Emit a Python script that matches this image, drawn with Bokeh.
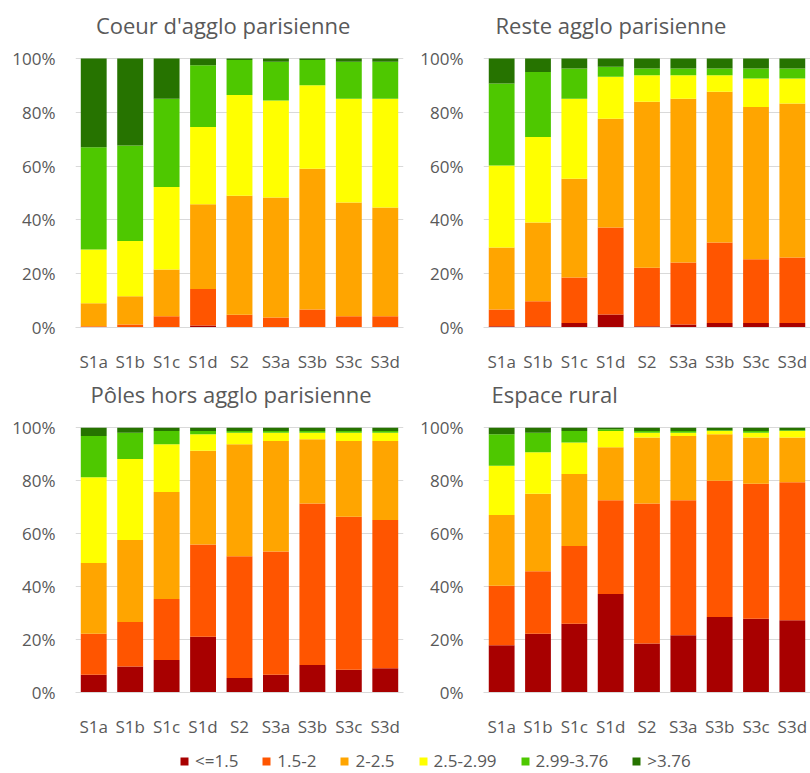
from bokeh.plotting import figure
from bokeh.models import (ColumnDataSource, FactorRange, Range1d, Legend, LegendItem,
                          PrintfTickFormatter, FixedTicker, Label)
from bokeh.layouts import gridplot, column
from bokeh.embed import file_html
from bokeh.resources import INLINE

scenarios = ["S1a", "S1b", "S1c", "S1d", "S2", "S3a", "S3b", "S3c", "S3d"]
classes = ["<=1.5", "1.5-2", "2-2.5", "2.5-2.99", "2.99-3.76", ">3.76"]
colors = ["#A80000", "#FF5500", "#FFA500", "#FFFF00", "#4EC800", "#267300"]
y_ticks = [0, 20, 40, 60, 80, 100]

# Coeur d'agglo parisienne (% of each class)
coeur_c1 = [0, 0, 0, 0.7, 0, 0, 0, 0, 0]
coeur_c2 = [0.5, 1.1, 4.2, 13.6, 4.7, 3.7, 6.7, 4.2, 4.2]
coeur_c3 = [8.5, 10.5, 17.4, 31.5, 44.3, 44.6, 52.3, 42.3, 40.4]
coeur_c4 = [20.0, 20.6, 30.6, 28.7, 37.4, 36.1, 31.1, 38.5, 40.4]
coeur_c5 = [38.0, 35.5, 32.8, 23.0, 13.0, 14.4, 9.3, 13.8, 13.8]
coeur_c6 = [33.0, 32.3, 15.0, 2.5, 0.6, 1.2, 0.6, 1.2, 1.2]

# Reste agglo parisienne
reste_c1 = [0.5, 0.5, 1.7, 4.8, 0.5, 1.1, 1.7, 1.7, 1.7]
reste_c2 = [6.2, 9.3, 16.9, 32.4, 21.7, 23.1, 29.9, 23.7, 24.3]
reste_c3 = [23.0, 29.2, 36.7, 40.4, 61.7, 60.8, 56.0, 56.6, 57.3]
reste_c4 = [30.5, 31.8, 29.7, 15.6, 9.9, 8.8, 6.2, 10.6, 9.3]
reste_c5 = [30.5, 24.2, 11.3, 3.7, 2.5, 2.5, 2.5, 3.7, 3.7]
reste_c6 = [9.3, 5.0, 3.7, 3.1, 3.7, 3.7, 3.7, 3.7, 3.7]

# Pôles hors agglo parisienne
poles_c1 = [6.7, 9.8, 12.3, 21.1, 5.5, 6.7, 10.4, 8.6, 9.2]
poles_c2 = [15.5, 16.8, 23.0, 34.8, 46.0, 46.6, 61.0, 57.8, 56.0]
poles_c3 = [26.7, 31.0, 40.4, 35.4, 42.3, 41.7, 24.3, 28.6, 29.8]
poles_c4 = [32.4, 30.6, 18.1, 6.2, 4.3, 3.1, 2.4, 3.1, 3.1]
poles_c5 = [15.6, 9.9, 5.0, 1.3, 0.7, 0.7, 0.7, 0.7, 0.7]
poles_c6 = [3.1, 1.9, 1.2, 1.2, 1.2, 1.2, 1.2, 1.2, 1.2]

# Espace rural
rural_c1 = [17.8, 22.2, 26.0, 37.2, 18.5, 21.6, 28.5, 27.9, 27.3]
rural_c2 = [22.5, 23.6, 29.3, 35.4, 52.9, 51.0, 51.5, 50.9, 52.1]
rural_c3 = [26.7, 29.3, 27.2, 20.0, 24.9, 24.3, 17.5, 17.5, 16.9]
rural_c4 = [18.6, 15.6, 11.9, 6.2, 1.8, 1.2, 1.3, 1.8, 2.5]
rural_c5 = [11.9, 7.4, 4.4, 0.6, 0.7, 0.7, 0.3, 0.7, 0.3]
rural_c6 = [2.5, 1.9, 1.2, 0.6, 1.2, 1.2, 0.9, 1.2, 0.9]

FONT = "Open Sans"
GRAY = "#595959"
PX_PER_PCT = 2.69  # plot-area height of 269 px for 0..100 %


def make_source(series):
    src = dict(x=scenarios)
    keys = []
    for i, vals in enumerate(series):
        k = "c%d" % i
        src[k] = vals
        keys.append(k)
    return ColumnDataSource(src), keys


def make_panel(title, series, height, left_border, right_border, head_px,
               bottom_border, title_x):
    source, keys = make_source(series)
    # the plot frame also covers the title band above 100 %
    y_end = 100 + head_px / PX_PER_PCT
    p = figure(width=405, height=height, x_range=FactorRange(*scenarios, range_padding=0),
               y_range=Range1d(0, y_end), toolbar_location=None, output_backend="svg",
               min_border_left=left_border, min_border_right=right_border,
               min_border_top=0, min_border_bottom=bottom_border)
    p.vbar_stack(keys, x="x", width=0.71, color=colors, line_color=None, source=source)
    p.add_layout(Label(x=title_x, y=100 + 34 / PX_PER_PCT, text=title, text_font=FONT,
                       text_font_size="22px", text_color=GRAY,
                       text_baseline="alphabetic", text_align="left"))
    p.outline_line_color = None
    p.xgrid.grid_line_color = None
    p.ygrid.grid_line_color = "#D9D9D9"
    p.ygrid.grid_line_width = 1
    p.yaxis.ticker = FixedTicker(ticks=y_ticks)
    p.yaxis.formatter = PrintfTickFormatter(format="%d%%")
    p.yaxis.axis_line_color = None
    p.yaxis.major_tick_line_color = None
    p.yaxis.minor_tick_line_color = None
    p.yaxis.major_label_standoff = 14
    p.xaxis.axis_line_color = "#D9D9D9"
    p.xaxis.major_tick_line_color = None
    p.xaxis.minor_tick_line_color = None
    p.xaxis.major_label_standoff = 16
    for ax in (p.xaxis, p.yaxis):
        ax.major_label_text_font = FONT
        ax.major_label_text_font_size = "17px"
        ax.major_label_text_color = GRAY
    return p


p1 = make_panel("Coeur d'agglo parisienne",
                [coeur_c1, coeur_c2, coeur_c3, coeur_c4, coeur_c5, coeur_c6],
                380, 75, 2, 58, 53, 0.56)
p2 = make_panel("Reste agglo parisienne",
                [reste_c1, reste_c2, reste_c3, reste_c4, reste_c5, reste_c6],
                380, 78, 0, 58, 53, 0.33)
p3 = make_panel("Pôles hors agglo parisienne",
                [poles_c1, poles_c2, poles_c3, poles_c4, poles_c5, poles_c6],
                360, 75, 2, 48, 43, 0.41)
p4 = make_panel("Espace rural",
                [rural_c1, rural_c2, rural_c3, rural_c4, rural_c5, rural_c6],
                360, 78, 0, 48, 43, 0.22)

# legend strip: same stacked bars, drawn out of the visible y window
lsrc, lkeys = make_source([rural_c1, rural_c2, rural_c3, rural_c4, rural_c5, rural_c6])
lg = figure(width=810, height=32, x_range=FactorRange(*scenarios),
            y_range=Range1d(1000, 1001), toolbar_location=None, output_backend="svg",
            min_border=0, x_axis_location=None, y_axis_location=None)
lg.outline_line_color = None
lg.grid.visible = False
rends = lg.vbar_stack(lkeys, x="x", width=0.71, color=colors, line_color=None, source=lsrc)
items = [LegendItem(label=name, renderers=[r]) for name, r in zip(classes, rends)]
legend = Legend(items=items, orientation="horizontal", location=(179, 0),
                label_text_font=FONT, label_text_font_size="17px", label_text_color=GRAY,
                glyph_width=10, glyph_height=10, spacing=23, label_standoff=6,
                padding=0, margin=0, background_fill_alpha=0, border_line_alpha=0)
lg.add_layout(legend, "center")

grid = gridplot([[p1, p2], [p3, p4]], toolbar_location=None)
layout = column(grid, lg)

open("out.html", "w").write(file_html(layout, INLINE))
